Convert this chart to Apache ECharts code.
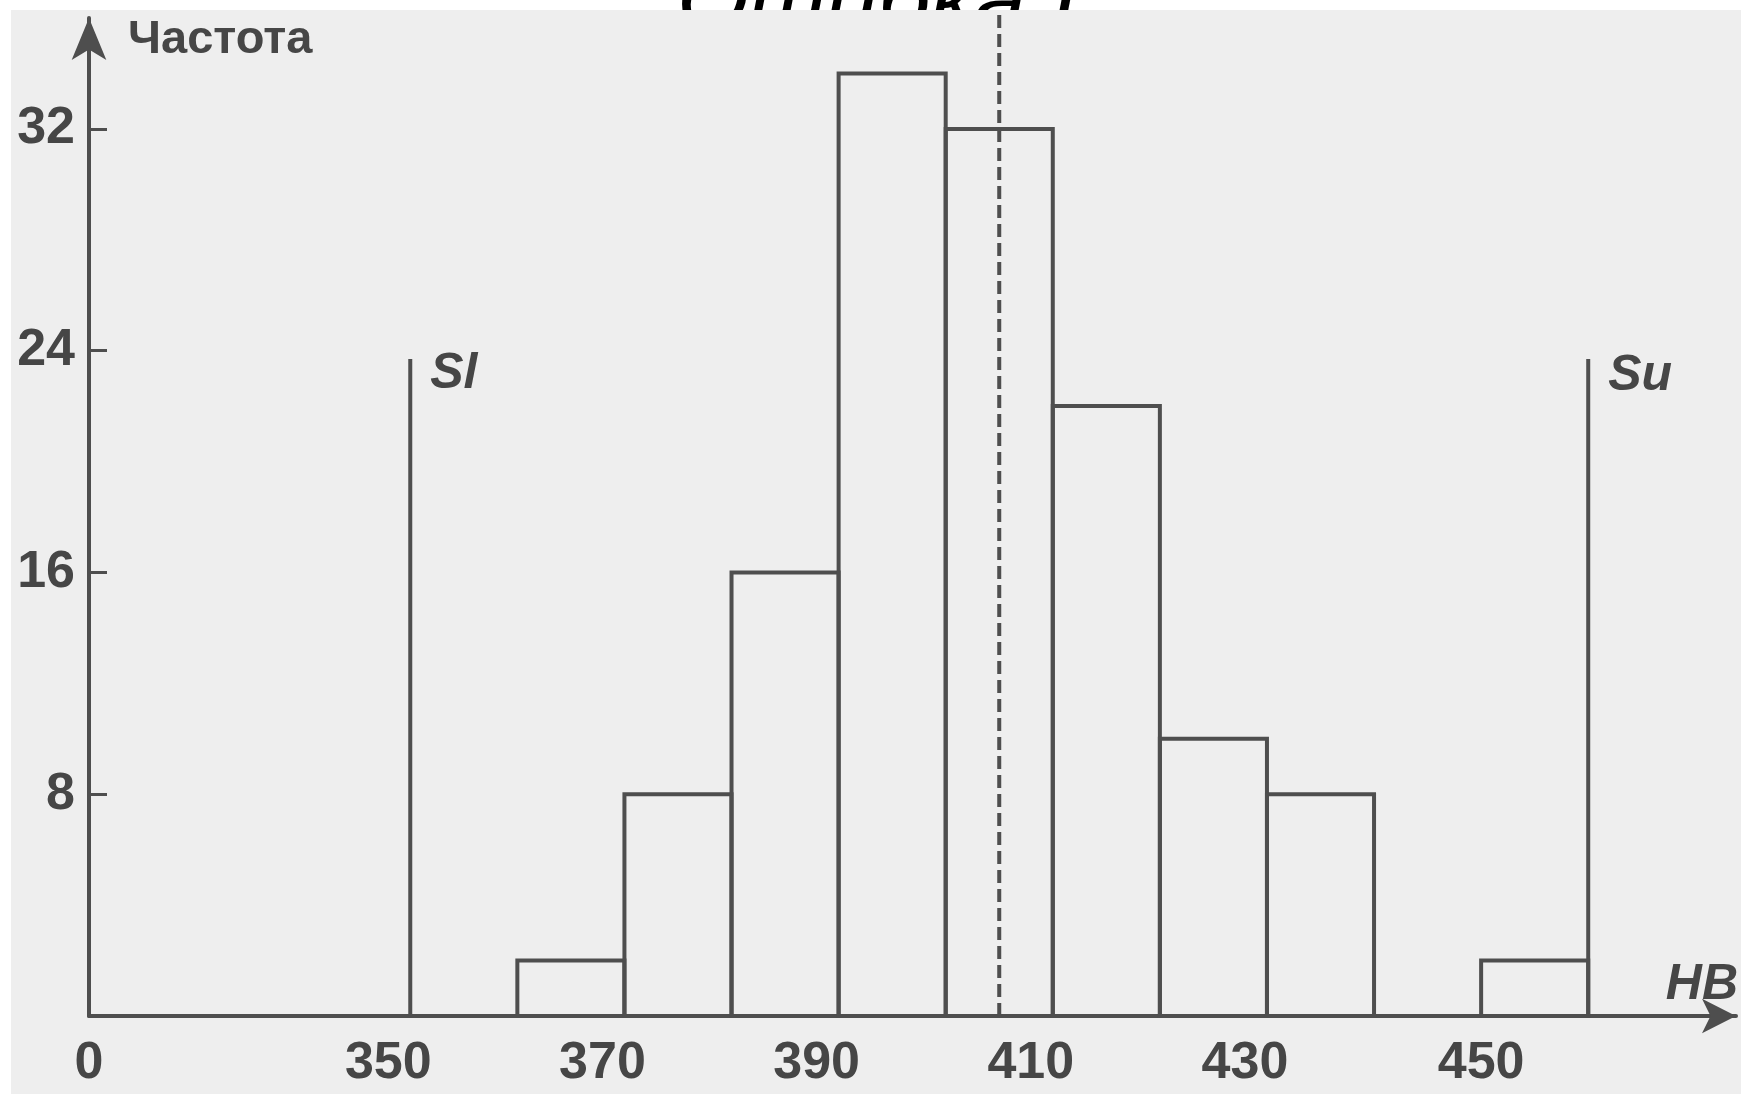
<!DOCTYPE html>
<html>
<head>
<meta charset="utf-8">
<style>
html,body{margin:0;padding:0;background:#fff;}
#chart{width:1741px;height:1094px;}
</style>
<script src="https://cdn.jsdelivr.net/npm/echarts@6/dist/echarts.min.js"></script>
</head>
<body>
<div id="chart"></div>
<script>
// ---- data ----
const binStarts = [360, 370, 380, 390, 400, 410, 420, 430, 440, 450];
const binWidth = 10;
const counts = [2, 8, 16, 34, 32, 22, 10, 8, 0, 2];
const specLower = 350;
const specUpper = 460;
const specLineTop = 23.7;
const meanValue = 405;
const xLabelValues = [320, 350, 370, 390, 410, 430, 450];
const xLabelTexts = ['0', '350', '370', '390', '410', '430', '450'];
const yTickValues = [8, 16, 24, 32];
const titleText = 'Ошибка I';
const yName = 'Частота';
const xName = 'HB';

const ink = '#4e4e4e';
const txt = '#464646';
const font = 'Liberation Sans';

const chart = echarts.init(document.getElementById('chart'));

const histData = binStarts.map((s, i) => [s, counts[i]]);

chart.setOption({
  backgroundColor: '#ffffff',
  animation: false,
  graphic: [
    { type: 'text', z: 0, left: 677, top: -42,
      style: { text: titleText, font: 'italic 93px "Liberation Sans"', fill: '#000' } },
    { type: 'rect', z: 1, shape: { x: 11, y: 10, width: 1730, height: 1084 },
      style: { fill: '#eeeeee' } }
  ],
  grid: { left: 89, right: 0, top: 18, bottom: 78 },
  xAxis: {
    type: 'value', min: 320, max: 473.8, z: 5,
    name: xName, nameLocation: 'end', nameGap: 2,
    nameTextStyle: { fontFamily: font, fontSize: 50, fontStyle: 'italic', fontWeight: 'bold',
      color: txt, align: 'right', verticalAlign: 'bottom', padding: [0, 0, 6, 0] },
    axisLine: { show: true, symbol: ['none', 'arrow'], symbolSize: [26, 34],
      lineStyle: { color: ink, width: 4 } },
    axisTick: { show: false },
    splitLine: { show: false },
    axisLabel: {
      customValues: xLabelValues, margin: 22, color: txt, fontFamily: font, fontSize: 52,
      formatter: function (v) {
        const i = xLabelValues.indexOf(v);
        if (i < 0) return '';
        const t = xLabelTexts[i];
        return (v === 320 || v === 450) ? '{n|' + t + '}' : '{s|' + t + '}';
      },
      rich: {
        n: { fontFamily: font, fontSize: 52, fontWeight: 'bold', color: txt },
        s: { fontFamily: font, fontSize: 52, fontWeight: 'bold', color: txt, padding: [0, 44, 0, 0] }
      }
    }
  },
  yAxis: {
    type: 'value', min: 0, max: 36, z: 5,
    name: yName, nameLocation: 'end', nameGap: -22,
    nameTextStyle: { fontFamily: font, fontSize: 47, fontWeight: 'bold', color: txt, align: 'left',
      verticalAlign: 'middle', padding: [0, 0, 0, 39] },
    axisLine: { show: true, symbol: ['none', 'arrow'], symbolSize: [26, 42],
      lineStyle: { color: ink, width: 4 } },
    axisTick: { show: true, inside: true, length: 18, customValues: yTickValues,
      lineStyle: { color: ink, width: 3 } },
    splitLine: { show: false },
    axisLabel: { customValues: yTickValues, margin: 14, color: txt, fontFamily: font,
      fontSize: 52, fontWeight: 'bold' }
  },
  series: [
    {
      type: 'custom', z: 6, data: histData, silent: true,
      renderItem: function (params, api) {
        const x0 = api.value(0);
        const y = api.value(1);
        if (!y) return null;
        const p0 = api.coord([x0, y]);
        const p1 = api.coord([x0 + binWidth, 0]);
        return {
          type: 'rect',
          shape: { x: p0[0], y: p0[1], width: p1[0] - p0[0], height: p1[1] - p0[1] },
          style: { fill: 'none', stroke: ink, lineWidth: 4 }
        };
      }
    },
    {
      type: 'line', z: 7, silent: true, symbol: 'circle', symbolSize: 0, showSymbol: true,
      lineStyle: { color: ink, width: 4 },
      data: [[specLower, 0], { value: [specLower, specLineTop],
        label: { show: true, formatter: 'Sl', position: [20, -10], align: 'left', verticalAlign: 'top',
          fontFamily: font, fontSize: 50, fontStyle: 'italic', fontWeight: 'bold', color: txt } }]
    },
    {
      type: 'line', z: 7, silent: true, symbol: 'circle', symbolSize: 0, showSymbol: true,
      lineStyle: { color: ink, width: 4 },
      data: [[specUpper, 0], { value: [specUpper, specLineTop],
        label: { show: true, formatter: 'Su', position: [20, -8], align: 'left', verticalAlign: 'top',
          fontFamily: font, fontSize: 50, fontStyle: 'italic', fontWeight: 'bold', color: txt } }]
    },
    {
      type: 'line', z: 8, silent: true, symbol: 'none', clip: false,
      lineStyle: { color: ink, width: 4, type: [13, 6] },
      data: [[meanValue, 0], [meanValue, 36.3]]
    }
  ]
});
</script>
</body>
</html>
